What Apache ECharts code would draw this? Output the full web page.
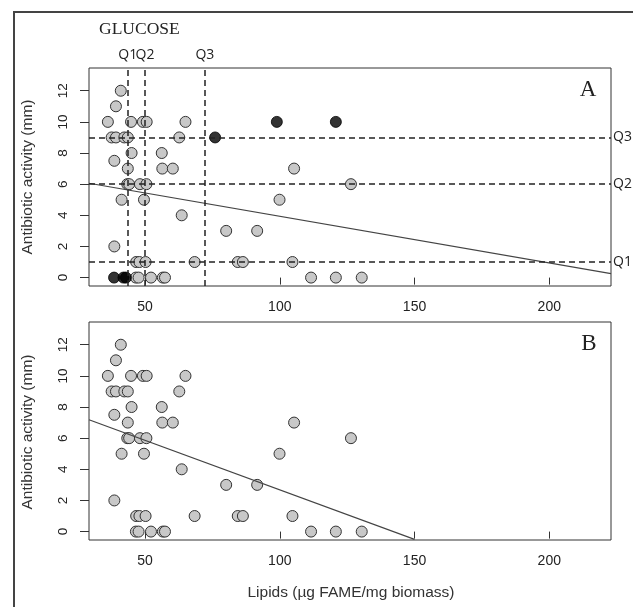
<!DOCTYPE html>
<html><head><meta charset="utf-8">
<script src="https://cdn.jsdelivr.net/npm/echarts@6/dist/echarts.min.js"></script>
<style>html,body{margin:0;padding:0;background:#fff}#c{width:633px;height:607px}</style>
</head><body><div id="c"></div><script>
// Gray points (present in both panels)
const grayX = [41.0, 39.2,
  36.2, 44.8, 49.2, 50.6, 65.0,
  37.6, 39.2, 42.3, 43.6, 62.7,
  45.0, 56.2,
  38.6,
  43.6, 56.4, 60.3, 105.3,
  43.4, 44.1, 48.1, 50.5, 126.4,
  41.3, 49.6, 99.9,
  63.6,
  80.1, 91.6,
  38.6,
  46.7, 47.9, 50.2, 68.4, 84.4, 86.3, 104.7,
  46.6, 47.6, 52.2, 56.6, 57.4, 111.6, 120.8, 130.4];
const grayY = [12, 11,
  10, 10, 10, 10, 10,
  9, 9, 9, 9, 9,
  8, 8,
  7.5,
  7, 7, 7, 7,
  6, 6, 6, 6, 6,
  5, 5, 5,
  4,
  3, 3,
  2,
  1, 1, 1, 1, 1, 1, 1,
  0, 0, 0, 0, 0, 0, 0, 0];
// Black points (panel A only)
const blackX = [38.5, 42.0, 42.9, 76.0, 98.9, 120.8];
const blackY = [0, 0, 0, 9, 10, 10];
// Quartile lines (panel A)
const qLipids = [43.6, 50, 72.2];
const qActivity = [1, 6, 9];
const qNames = ['Q1', 'Q2', 'Q3'];
// Fitted lines
const fitAx = [29.2, 222.9];
const fitAy = [6.06, 0.26];
const fitBx = [29.2, 150];
const fitBy = [7.18, -0.5];
// Ticks
const xTicks = [50, 100, 150, 200];
const yTicks = [0, 2, 4, 6, 8, 10, 12];

const zip = (a, b) => a.map((v, i) => [v, b[i]]);
const sans = 'Liberation Sans, Arial, sans-serif';
const serif = 'Liberation Serif, Times New Roman, serif';
const ink = '#333';

function xAx(gi) {
  return {
    gridIndex: gi, type: 'value', min: 29.2, max: 222.9,
    axisLine: { show: false },
    axisTick: { show: true, length: 7, customValues: xTicks, lineStyle: { color: ink } },
    axisLabel: { customValues: xTicks, fontSize: 14, fontFamily: sans, color: '#222', margin: 14 },
    splitLine: { show: false }
  };
}
function yAx(gi) {
  return {
    gridIndex: gi, type: 'value', min: -0.54, max: 13.46,
    axisLine: { show: false },
    axisTick: { show: true, length: 9, customValues: yTicks, lineStyle: { color: ink } },
    axisLabel: { customValues: yTicks, fontSize: 13.5, fontFamily: sans, color: '#222', rotate: 90, margin: 19 },
    splitLine: { show: false }
  };
}
const grayStyle = { color: '#c8c8c8', borderColor: '#333', borderWidth: 1, opacity: 1 };

const qMarks = [];
qLipids.forEach((v, i) => qMarks.push({ xAxis: v, label: { formatter: qNames[i], position: 'end', distance: 6 } }));
qActivity.forEach((v, i) => qMarks.push({ yAxis: v, label: { formatter: qNames[i], position: 'end', distance: 2 } }));

const chart = echarts.init(document.getElementById('c'), null, { renderer: 'canvas' });
chart.setOption({
  animation: false,
  backgroundColor: '#fff',
  grid: [
    { left: 89, top: 68, width: 522, height: 218, show: true, borderColor: ink, borderWidth: 1, backgroundColor: 'transparent' },
    { left: 89, top: 322, width: 522, height: 218, show: true, borderColor: ink, borderWidth: 1, backgroundColor: 'transparent' }
  ],
  xAxis: [xAx(0), xAx(1)],
  yAxis: [yAx(0), yAx(1)],
  series: [
    { type: 'scatter', xAxisIndex: 0, yAxisIndex: 0, data: zip(grayX, grayY), symbolSize: 11, itemStyle: grayStyle, z: 2 },
    { type: 'scatter', xAxisIndex: 0, yAxisIndex: 0, data: zip(blackX, blackY), symbolSize: 11, itemStyle: { color: '#000', borderColor: '#000', borderWidth: 1 }, z: 2 },
    { type: 'scatter', xAxisIndex: 0, yAxisIndex: 0, data: [], z: 4,
      markLine: { silent: true, symbol: 'none', animation: false,
        lineStyle: { color: '#222', type: [6, 4], width: 1.5 },
        label: { color: '#222', fontSize: 14, fontFamily: 'Open Sans, Liberation Sans, sans-serif' },
        data: qMarks } },
    { type: 'line', xAxisIndex: 0, yAxisIndex: 0, data: zip(fitAx, fitAy), symbol: 'none', lineStyle: { color: '#444', width: 1.2 }, z: 3 },
    { type: 'scatter', xAxisIndex: 1, yAxisIndex: 1, data: zip(grayX, grayY), symbolSize: 11, itemStyle: grayStyle, z: 2 },
    { type: 'line', xAxisIndex: 1, yAxisIndex: 1, data: zip(fitBx, fitBy), symbol: 'none', lineStyle: { color: '#444', width: 1.2 }, z: 3 }
  ],
  graphic: [
    { type: 'polyline', shape: { points: [[14, 607], [14, 12], [633, 12]] }, style: { stroke: '#444', lineWidth: 2, fill: null } },
    { type: 'text', left: 99, top: 20, style: { text: 'GLUCOSE', font: '17.5px ' + serif, fill: '#222' } },
    { type: 'text', x: 588, y: 90, style: { text: 'A', font: '23px ' + serif, fill: '#222', align: 'center', verticalAlign: 'middle' } },
    { type: 'text', x: 589, y: 344, style: { text: 'B', font: '23px ' + serif, fill: '#222', align: 'center', verticalAlign: 'middle' } },
    { type: 'text', x: 28, y: 177, rotation: Math.PI / 2, style: { text: 'Antibiotic activity (mm)', font: '15.5px ' + sans, fill: '#333', align: 'center', verticalAlign: 'middle' } },
    { type: 'text', x: 28, y: 432, rotation: Math.PI / 2, style: { text: 'Antibiotic activity (mm)', font: '15.5px ' + sans, fill: '#333', align: 'center', verticalAlign: 'middle' } },
    { type: 'text', x: 351, y: 593, style: { text: 'Lipids (µg FAME/mg biomass)', font: '15.5px ' + sans, fill: '#333', align: 'center', verticalAlign: 'middle' } }
  ]
});
</script></body></html>
